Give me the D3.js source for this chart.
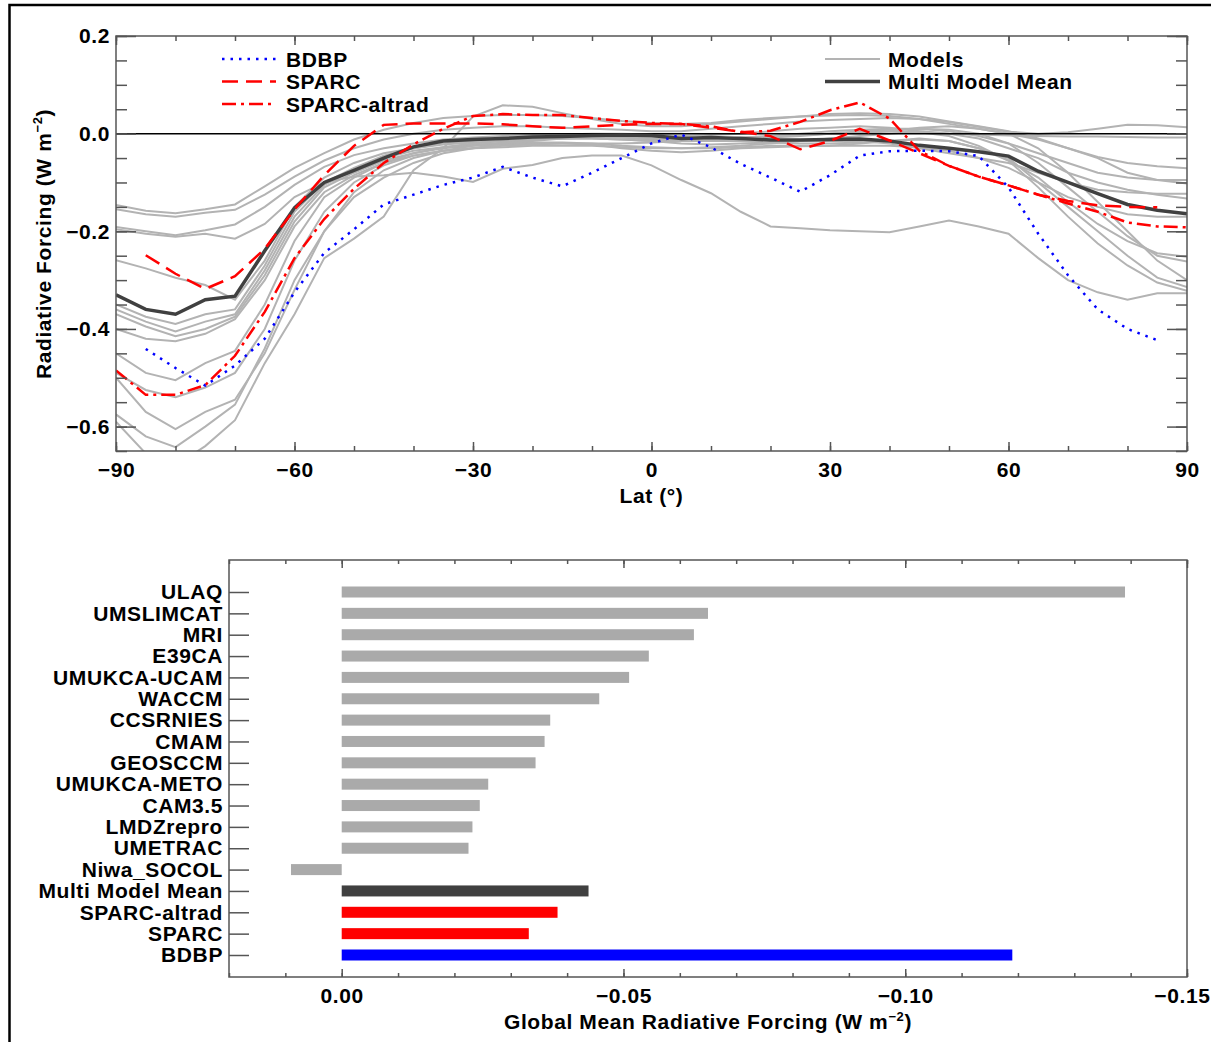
<!DOCTYPE html>
<html>
<head>
<meta charset="utf-8">
<script src="https://cdn.jsdelivr.net/npm/d3@7"></script>
<style>
  body { margin: 0; background: #fff; }
  svg { display: block; font-family: 'Liberation Sans', Arial, Helvetica, sans-serif; font-weight: bold; letter-spacing: 0.6px; }
</style>
</head>
<body>
<svg id="chart"></svg>
<script>
// latitude grid of the zonal curves
const lats = [-90, -85, -80, -75, -70, -65, -60, -55, -50, -45, -40, -35, -30, -25, -20, -15, -10, -5,
  0, 5, 10, 15, 20, 25, 30, 35, 40, 45, 50, 55, 60, 65, 70, 75, 80, 85, 90];

// individual models (grey lines)
const models = [
  [-0.146, -0.158, -0.163, -0.155, -0.145, -0.108, -0.07, -0.04, -0.012, 0.008, 0.022, 0.032, 0.036, 0.038, 0.038, 0.036, 0.032, 0.026,
    0.022, 0.02, 0.022, 0.028, 0.032, 0.035, 0.037, 0.038, 0.036, 0.03, 0.02, 0.01, 0.0, -0.012, -0.03, -0.048, -0.06, -0.067, -0.071],
  [-0.155, -0.165, -0.17, -0.162, -0.156, -0.125, -0.088, -0.055, -0.03, -0.012, 0.0, 0.008, 0.012, 0.015, 0.015, 0.012, 0.01, 0.008,
    0.005, 0.005, 0.01, 0.015, 0.02, 0.025, 0.028, 0.03, 0.032, 0.03, 0.024, 0.014, 0.004, 0.0, 0.003, 0.01, 0.018, 0.017, 0.013],
  [-0.191, -0.2, -0.208, -0.198, -0.186, -0.15, -0.105, -0.068, -0.044, -0.03, -0.02, -0.012, -0.008, -0.005, -0.003, -0.002, 0.0, 0.0,
    -0.002, -0.005, -0.003, 0.0, 0.005, 0.01, 0.012, 0.015, 0.012, 0.005, 0.0, -0.002, -0.004, -0.005, -0.006, -0.006, -0.007, -0.008, -0.008],
  [-0.196, -0.205, -0.211, -0.205, -0.215, -0.185, -0.13, -0.1, -0.088, -0.085, -0.08, -0.088, -0.099, -0.072, -0.064, -0.05, -0.045, -0.045,
    -0.065, -0.095, -0.122, -0.16, -0.19, -0.194, -0.198, -0.2, -0.202, -0.19, -0.178, -0.19, -0.205, -0.255, -0.3, -0.325, -0.34, -0.327, -0.327],
  [-0.259, -0.276, -0.295, -0.31, -0.34, -0.26, -0.15, -0.09, -0.06, -0.04, -0.03, -0.022, -0.018, -0.015, -0.012, -0.01, -0.01, -0.012,
    -0.015, -0.02, -0.022, -0.02, -0.018, -0.015, -0.015, -0.015, -0.02, -0.03, -0.04, -0.05, -0.06, -0.08, -0.1, -0.115, -0.12, -0.123, -0.123],
  [-0.35, -0.375, -0.39, -0.37, -0.36, -0.27, -0.16, -0.1, -0.07, -0.045, -0.03, -0.02, -0.015, -0.01, -0.008, -0.005, -0.005, -0.008,
    -0.012, -0.015, -0.012, -0.008, -0.005, 0.0, 0.005, 0.008, 0.01, 0.01, 0.005, -0.005, -0.02, -0.04, -0.06, -0.08, -0.09, -0.095, -0.095],
  [-0.36, -0.385, -0.405, -0.385, -0.37, -0.28, -0.17, -0.105, -0.075, -0.05, -0.035, -0.028, -0.022, -0.02, -0.018, -0.018, -0.02, -0.025,
    -0.028, -0.03, -0.03, -0.028, -0.025, -0.025, -0.025, -0.025, -0.025, -0.028, -0.035, -0.05, -0.07, -0.1, -0.13, -0.15, -0.165, -0.17, -0.17],
  [-0.37, -0.395, -0.415, -0.4, -0.375, -0.29, -0.18, -0.11, -0.08, -0.055, -0.04, -0.03, -0.025, -0.022, -0.02, -0.02, -0.022, -0.03,
    -0.035, -0.038, -0.035, -0.03, -0.028, -0.026, -0.025, -0.02, -0.015, -0.01, -0.015, -0.03, -0.055, -0.09, -0.14, -0.185, -0.22, -0.245, -0.252],
  [-0.40, -0.42, -0.425, -0.41, -0.38, -0.3, -0.19, -0.12, -0.085, -0.06, -0.045, -0.035, -0.03, -0.028, -0.025, -0.025, -0.025, -0.028,
    -0.03, -0.03, -0.028, -0.025, -0.02, -0.015, -0.01, -0.005, 0.0, 0.005, 0.0, -0.01, -0.03, -0.05, -0.08, -0.1, -0.115, -0.125, -0.133],
  [-0.45, -0.49, -0.505, -0.47, -0.445, -0.35, -0.22, -0.13, -0.09, -0.06, -0.04, -0.028, -0.02, -0.015, -0.012, -0.01, -0.01, -0.012,
    -0.015, -0.015, -0.012, -0.01, -0.008, -0.005, 0.0, 0.0, 0.005, 0.012, 0.015, 0.01, 0.0, -0.03, -0.08, -0.14, -0.2, -0.26, -0.3],
  [-0.49, -0.525, -0.54, -0.52, -0.49, -0.4, -0.26, -0.16, -0.1, -0.065, -0.045, -0.035, -0.03, -0.025, -0.022, -0.02, -0.02, -0.02,
    -0.018, -0.015, -0.015, -0.015, -0.018, -0.02, -0.02, -0.018, -0.015, -0.012, -0.015, -0.03, -0.05, -0.1, -0.15, -0.2, -0.25, -0.295, -0.314],
  [-0.50, -0.57, -0.605, -0.57, -0.545, -0.45, -0.32, -0.2, -0.12, -0.075, -0.05, -0.035, -0.025, -0.018, -0.012, -0.008, -0.006, -0.006,
    -0.008, -0.01, -0.01, -0.008, -0.005, -0.002, 0.0, 0.005, 0.008, 0.01, 0.008, 0.0, -0.02, -0.06, -0.11, -0.16, -0.21, -0.25, -0.262],
  [-0.575, -0.62, -0.642, -0.6, -0.555, -0.44, -0.3, -0.2, -0.13, -0.09, -0.06, -0.04, -0.03, -0.02, -0.015, -0.01, -0.008, -0.008,
    -0.01, -0.012, -0.012, -0.01, -0.006, -0.003, 0.0, 0.003, 0.005, 0.003, -0.005, -0.025, -0.055, -0.11, -0.17, -0.225, -0.27, -0.305, -0.322],
  [-0.59, -0.655, -0.68, -0.64, -0.587, -0.47, -0.37, -0.255, -0.215, -0.17, -0.075, -0.03, 0.035, 0.058, 0.055, 0.042, 0.03, 0.02,
    0.015, 0.015, 0.02, 0.025, 0.03, 0.035, 0.04, 0.042, 0.04, 0.035, 0.025, 0.015, 0.005, -0.01, -0.03, -0.05, -0.08, -0.095, -0.102]
];

const multiModelMean = [-0.33, -0.36, -0.37, -0.34, -0.333, -0.24, -0.152, -0.1, -0.075, -0.05, -0.027, -0.015, -0.012, -0.01, -0.007, -0.006, -0.004, -0.003,
  -0.004, -0.01, -0.008, -0.01, -0.013, -0.013, -0.012, -0.011, -0.015, -0.024, -0.03, -0.037, -0.046, -0.077, -0.1, -0.123, -0.145, -0.157, -0.164];

const sparc = [null, -0.249, -0.287, -0.318, -0.292, -0.236, -0.155, -0.085, -0.025, 0.018, 0.021, 0.021, 0.021, 0.019, 0.015, 0.012, 0.015, 0.018,
  0.02, 0.02, 0.012, 0.004, -0.005, -0.032, -0.015, 0.01, -0.014, -0.04, -0.066, -0.088, -0.106, -0.125, -0.138, -0.147, -0.15, -0.151, null];

const sparcAltrad = [-0.485, -0.535, -0.535, -0.515, -0.455, -0.365, -0.255, -0.175, -0.113, -0.06, -0.022, 0.01, 0.036, 0.04, 0.038, 0.038, 0.032, 0.026,
  0.022, 0.02, 0.015, 0.003, 0.006, 0.024, 0.048, 0.064, 0.031, -0.035, -0.066, -0.088, -0.106, -0.125, -0.143, -0.16, -0.182, -0.19, -0.192];

const bdbp = [null, -0.441, -0.48, -0.516, -0.475, -0.42, -0.325, -0.244, -0.196, -0.145, -0.125, -0.105, -0.09, -0.068, -0.09, -0.108, -0.08, -0.05,
  -0.02, -0.002, -0.028, -0.062, -0.09, -0.119, -0.085, -0.045, -0.036, -0.035, -0.036, -0.046, -0.11, -0.205, -0.29, -0.36, -0.4, -0.423, null];

// global mean forcing (lower panel)
const barNames = ['ULAQ', 'UMSLIMCAT', 'MRI', 'E39CA', 'UMUKCA-UCAM', 'WACCM', 'CCSRNIES', 'CMAM', 'GEOSCCM',
  'UMUKCA-METO', 'CAM3.5', 'LMDZrepro', 'UMETRAC', 'Niwa_SOCOL', 'Multi Model Mean', 'SPARC-altrad', 'SPARC', 'BDBP'];
const barValues = [-0.139, -0.065, -0.0625, -0.0545, -0.051, -0.0457, -0.037, -0.036, -0.0344,
  -0.026, -0.0245, -0.0232, -0.0225, 0.009, -0.0438, -0.0383, -0.0332, -0.119];

const latTicks = [-90, -60, -30, 0, 30, 60, 90];
const rfTicks = [0.2, 0.0, -0.2, -0.4, -0.6];
const gmTicks = [0.00, -0.05, -0.10, -0.15];

const W = 1211, H = 1042;
const FS = 21;
const AXIS = '#555';
const GREY = '#b3b3b3';

const svg = d3.select('#chart').attr('width', W).attr('height', H);
svg.append('rect').attr('width', W).attr('height', H).attr('fill', '#fff');

// page frame (cropped)
svg.append('path')
  .attr('d', `M9.5,${H + 5}V5H${W + 5}`)
  .attr('fill', 'none').attr('stroke', '#000').attr('stroke-width', 2.5);

function cleanAxis(g) {
  g.attr('font-size', null).attr('font-family', null);
  g.select('.domain').remove();
  g.selectAll('line').attr('stroke', AXIS).attr('stroke-width', 1.5);
  g.selectAll('text').attr('font-size', FS).attr('fill', '#000');
}

// ---------------- upper panel ----------------
const p1 = { left: 116, top: 36, w: 1071, h: 415 };
const g1 = svg.append('g').attr('transform', `translate(${p1.left},${p1.top})`);

const x = d3.scaleLinear().domain([-90, 90]).range([0, p1.w]);
const y = d3.scaleLinear().domain([-0.65, 0.2]).range([p1.h, 0]);

g1.append('clipPath').attr('id', 'clip1')
  .append('rect').attr('width', p1.w).attr('height', p1.h);

const plot = g1.append('g').attr('clip-path', 'url(#clip1)');

const line = d3.line()
  .defined(d => d[1] !== null)
  .x(d => x(d[0]))
  .y(d => y(d[1]));

const pairs = vals => lats.map((l, i) => [l, vals[i]]);

plot.selectAll('.model')
  .data(models)
  .enter()
  .append('path')
  .attr('class', 'model')
  .attr('d', d => line(pairs(d)))
  .attr('fill', 'none')
  .attr('stroke', GREY)
  .attr('stroke-width', 2);

// zero line
plot.append('line')
  .attr('x1', 0).attr('x2', p1.w)
  .attr('y1', y(0)).attr('y2', y(0))
  .attr('stroke', '#000').attr('stroke-width', 1.5);

plot.append('path')
  .attr('d', line(pairs(multiModelMean)))
  .attr('fill', 'none').attr('stroke', '#404040').attr('stroke-width', 3.5);

const refStyles = {
  sparc: { color: '#ff0000', dash: '16,8' },
  sparcAltrad: { color: '#ff0000', dash: '14,5,3,5' },
  bdbp: { color: '#0000ff', dash: '2.5,6' }
};

[[sparc, refStyles.sparc], [sparcAltrad, refStyles.sparcAltrad], [bdbp, refStyles.bdbp]].forEach(([vals, st]) => {
  plot.append('path')
    .attr('d', line(pairs(vals)))
    .attr('fill', 'none')
    .attr('stroke', st.color)
    .attr('stroke-width', 2.5)
    .attr('stroke-dasharray', st.dash);
});

// axes: major + minor ticks on all sides, pointing inward
g1.append('g').call(d3.axisLeft(y).tickValues(y.ticks(20)).tickSize(-11).tickFormat('')).call(cleanAxis);
g1.append('g').call(d3.axisLeft(y).tickValues(rfTicks).tickSize(-20).tickPadding(6)
  .tickFormat(d3.format('.1f'))).call(cleanAxis);
g1.append('g').attr('transform', `translate(${p1.w},0)`)
  .call(d3.axisRight(y).tickValues(y.ticks(20)).tickSize(-11).tickFormat('')).call(cleanAxis);
g1.append('g').attr('transform', `translate(${p1.w},0)`)
  .call(d3.axisRight(y).tickValues(rfTicks).tickSize(-20).tickFormat('')).call(cleanAxis);

g1.append('g').attr('transform', `translate(0,${p1.h})`)
  .call(d3.axisBottom(x).tickValues(d3.range(-90, 91, 10)).tickSize(-5).tickFormat('')).call(cleanAxis);
g1.append('g').attr('transform', `translate(0,${p1.h})`)
  .call(d3.axisBottom(x).tickValues(latTicks).tickSize(-9).tickPadding(11).tickFormat(d3.format('d'))).call(cleanAxis);
g1.append('g')
  .call(d3.axisTop(x).tickValues(d3.range(-90, 91, 10)).tickSize(-5).tickFormat('')).call(cleanAxis);
g1.append('g')
  .call(d3.axisTop(x).tickValues(latTicks).tickSize(-9).tickFormat('')).call(cleanAxis);

g1.append('rect')
  .attr('width', p1.w).attr('height', p1.h)
  .attr('fill', 'none').attr('stroke', AXIS).attr('stroke-width', 1.5);

// axis titles
g1.append('text')
  .attr('x', p1.w / 2).attr('y', 467)
  .attr('text-anchor', 'middle').attr('font-size', FS)
  .text('Lat (°)');

const yTitle = svg.append('text')
  .attr('transform', 'translate(51,244) rotate(-90)')
  .attr('text-anchor', 'middle').attr('font-size', FS);
yTitle.append('tspan').text('Radiative Forcing (W m');
yTitle.append('tspan').attr('font-size', 13).attr('dy', -9).text('−2');
yTitle.append('tspan').attr('dy', 9).text(')');

// legends
const legendLeft = [
  { label: 'BDBP', color: '#0000ff', dash: refStyles.bdbp.dash, width: 2.5 },
  { label: 'SPARC', color: '#ff0000', dash: refStyles.sparc.dash, width: 2.5 },
  { label: 'SPARC-altrad', color: '#ff0000', dash: refStyles.sparcAltrad.dash, width: 2.5 }
];
const legendRight = [
  { label: 'Models', color: GREY, dash: null, width: 2 },
  { label: 'Multi Model Mean', color: '#404040', dash: null, width: 3.5 }
];

function drawLegend(items, x0, x1, tx, y0) {
  items.forEach((it, i) => {
    const yy = y0 + i * 22.5;
    svg.append('line')
      .attr('x1', x0).attr('x2', x1).attr('y1', yy).attr('y2', yy)
      .attr('stroke', it.color).attr('stroke-width', it.width)
      .attr('stroke-dasharray', it.dash);
    svg.append('text')
      .attr('x', tx).attr('y', yy + 7.5)
      .attr('font-size', FS)
      .text(it.label);
  });
}
drawLegend(legendLeft, 222, 276, 286, 59);
drawLegend(legendRight, 825, 880, 888, 59);

// ---------------- lower panel ----------------
const p2 = { left: 229, top: 560, w: 958, h: 417 };
const g2 = svg.append('g').attr('transform', `translate(${p2.left},${p2.top})`);

const xb = d3.scaleLinear().domain([0.02, -0.15]).range([0, p2.w]);
const yb = d3.scalePoint().domain(barNames).range([32, 395]);

const barColor = name => {
  if (name === 'Multi Model Mean') return '#404040';
  if (name === 'SPARC' || name === 'SPARC-altrad') return '#ff0000';
  if (name === 'BDBP') return '#0000ff';
  return '#aaaaaa';
};

const bars = barNames.map((n, i) => ({ name: n, value: barValues[i] }));

g2.selectAll('.bar')
  .data(bars)
  .enter()
  .append('rect')
  .attr('class', 'bar')
  .attr('x', d => Math.min(xb(0), xb(d.value)))
  .attr('y', d => yb(d.name) - 5.5)
  .attr('width', d => Math.abs(xb(d.value) - xb(0)))
  .attr('height', 11)
  .attr('fill', d => barColor(d.name));

const minorGm = d3.range(2, -16, -1).map(v => v / 100);

g2.append('g').call(d3.axisLeft(yb).tickSize(-20).tickPadding(6)).call(cleanAxis);
g2.append('g').attr('transform', `translate(0,${p2.h})`)
  .call(d3.axisBottom(xb).tickValues(minorGm).tickSize(-4).tickFormat('')).call(cleanAxis);
const gmAxis = g2.append('g').attr('transform', `translate(0,${p2.h})`)
  .call(d3.axisBottom(xb).tickValues(gmTicks).tickSize(-8).tickPadding(11).tickFormat(d3.format('.2f'))).call(cleanAxis);
// last label sits on the page edge: keep it inside
gmAxis.selectAll('text').filter(d => d === -0.15).attr('text-anchor', 'end').attr('x', 23);
g2.append('g')
  .call(d3.axisTop(xb).tickValues(minorGm).tickSize(-4).tickFormat('')).call(cleanAxis);
g2.append('g')
  .call(d3.axisTop(xb).tickValues(gmTicks).tickSize(-8).tickFormat('')).call(cleanAxis);

g2.append('rect')
  .attr('width', p2.w).attr('height', p2.h)
  .attr('fill', 'none').attr('stroke', AXIS).attr('stroke-width', 1.5);

const xbTitle = g2.append('text')
  .attr('x', p2.w / 2).attr('y', 469)
  .attr('text-anchor', 'middle').attr('font-size', FS);
xbTitle.append('tspan').text('Global Mean Radiative Forcing (W m');
xbTitle.append('tspan').attr('font-size', 13).attr('dy', -8).text('−2');
xbTitle.append('tspan').attr('dy', 8).text(')');
</script>
</body>
</html>
